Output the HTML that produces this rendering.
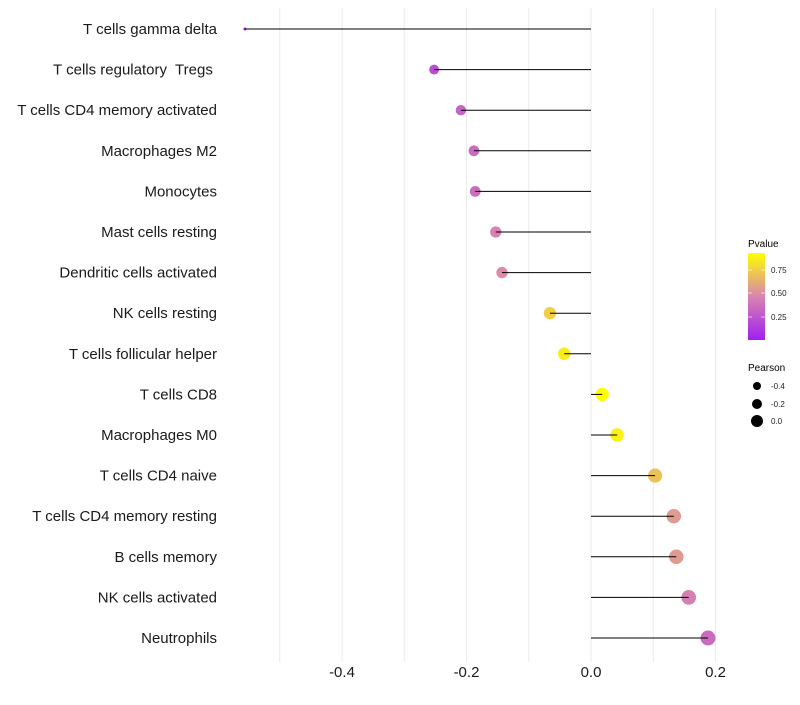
<!DOCTYPE html>
<html><head><meta charset="utf-8"><style>
body{margin:0;background:#fff;font-family:"Liberation Sans",sans-serif}
</style></head><body>
<svg id="chart" width="800" height="700" xmlns="http://www.w3.org/2000/svg" font-family="Liberation Sans, sans-serif">
<defs><linearGradient id="pg" x1="0" y1="1" x2="0" y2="0">
<stop offset="0" stop-color="#a020f0"/><stop offset="0.5" stop-color="#d884b0"/><stop offset="1" stop-color="#ffff00"/></linearGradient></defs>
<g id="grid"></g>
<g id="marks"></g>
<g id="ylabels"></g>
<g id="xlabels"></g>
<g>
<text x="748" y="247" font-size="10" fill="#000">Pvalue</text>
<rect x="748" y="253" width="17" height="87" fill="url(#pg)"/>
<line x1="748" x2="752" y1="270" y2="270" stroke="#fff" stroke-width="0.6"/><line x1="761" x2="765" y1="270" y2="270" stroke="#fff" stroke-width="0.6"/>
<line x1="748" x2="752" y1="293" y2="293" stroke="#fff" stroke-width="0.6"/><line x1="761" x2="765" y1="293" y2="293" stroke="#fff" stroke-width="0.6"/>
<line x1="748" x2="752" y1="317" y2="317" stroke="#fff" stroke-width="0.6"/><line x1="761" x2="765" y1="317" y2="317" stroke="#fff" stroke-width="0.6"/>
<text x="771" y="273" font-size="8" fill="#222">0.75</text>
<text x="771" y="296" font-size="8" fill="#222">0.50</text>
<text x="771" y="320" font-size="8" fill="#222">0.25</text>
</g>
<g>
<text x="748" y="371" font-size="10" fill="#000">Pearson</text>
<circle cx="757" cy="386" r="4" fill="#000"/><text x="771" y="389" font-size="8" fill="#222">-0.4</text>
<circle cx="757" cy="404" r="5" fill="#000"/><text x="771" y="407" font-size="8" fill="#222">-0.2</text>
<circle cx="757" cy="421" r="6" fill="#000"/><text x="771" y="424" font-size="8" fill="#222">0.0</text>
</g>
</svg>
<script>
const categories=["T cells gamma delta","T cells regulatory  Tregs ","T cells CD4 memory activated","Macrophages M2","Monocytes","Mast cells resting","Dendritic cells activated","NK cells resting","T cells follicular helper","T cells CD8","Macrophages M0","T cells CD4 naive","T cells CD4 memory resting","B cells memory","NK cells activated","Neutrophils"];
const pearson=[-0.556,-0.252,-0.209,-0.188,-0.186,-0.153,-0.143,-0.066,-0.043,0.018,0.042,0.103,0.133,0.137,0.157,0.188];
const pvalue=[0.01,0.22,0.32,0.35,0.36,0.46,0.5,0.75,0.86,0.93,0.88,0.7,0.55,0.55,0.45,0.35];
const xTicks=[-0.4,-0.2,0,0.2];
const xTickLabels=["-0.4","-0.2","0.0","0.2"];
const NS="http://www.w3.org/2000/svg";
const x=v=>591+v*622.5;
const y=i=>29+i*40.6;
const rad=v=>Math.sqrt(Math.max(1,42.6+72.6*v));
function lerp(a,b,t){return a.map((c,k)=>Math.round(c+(b[k]-c)*t));}
function col(p){let t=(p-0.005)/(0.93-0.005);t=Math.max(0,Math.min(1,t));
const A=[160,32,240],M=[216,132,176],B=[255,255,0];
const c=t<0.5?lerp(A,M,t*2):lerp(M,B,(t-0.5)*2);return `rgb(${c})`;}
function mk(tag,attrs,parent){const e=document.createElementNS(NS,tag);for(const k in attrs)e.setAttribute(k,attrs[k]);parent.appendChild(e);return e;}
const grid=document.getElementById('grid'),marks=document.getElementById('marks'),yl=document.getElementById('ylabels'),xl=document.getElementById('xlabels');
for(let v=-0.5;v<=0.21;v+=0.1){const g=mk('line',{x1:x(v),x2:x(v),y1:8,y2:662,stroke:'#ebebeb','stroke-width':1},grid);

}
categories.forEach((c,i)=>{
const d=mk('circle',{cx:x(pearson[i]),cy:y(i),r:rad(pearson[i]),fill:col(pvalue[i])},marks);


const l=mk('line',{x1:x(0),x2:x(pearson[i]),y1:y(i),y2:y(i),stroke:'#000','stroke-width':1},marks);


const t=mk('text',{x:217,y:y(i)+5,'text-anchor':'end','font-size':15,fill:'#1a1a1a'},yl);
t.setAttribute('xml:space','preserve');
t.style.whiteSpace='pre';
t.textContent=c;


});
xTicks.forEach((v,i)=>{const t=mk('text',{x:x(v),y:677,'text-anchor':'middle','font-size':15,fill:'#1a1a1a'},xl);t.textContent=xTickLabels[i];

});
</script>
</body></html>
